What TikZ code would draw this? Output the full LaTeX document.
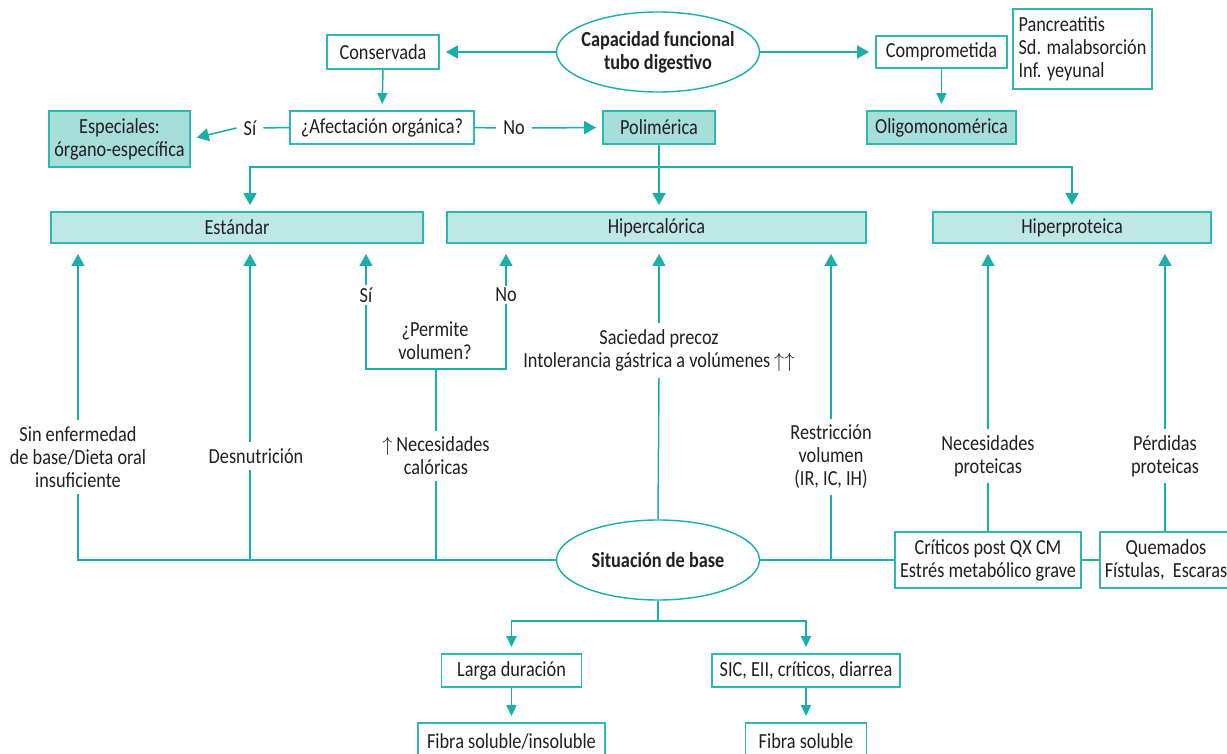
\documentclass[tikz,border=0pt]{standalone}
\usepackage{fontspec}
\setmainfont[FakeStretch=0.85]{Carlito}
\usetikzlibrary{arrows.meta,shapes.geometric}
\definecolor{tl}{HTML}{1AAFA8}
\definecolor{tlb}{HTML}{2DB8B1}
\definecolor{fdark}{HTML}{A6DEDA}
\definecolor{flight}{HTML}{BDE8E5}
\definecolor{txt}{HTML}{231F20}
\tikzset{
  box/.style={draw=tlb, line width=1.8pt, fill=white, inner sep=0pt, text=txt, align=center},
  dbox/.style={box, fill=fdark},
  lbox/.style={box, fill=flight},
  ell/.style={ellipse, draw=tl, line width=1.4pt, fill=white, inner xsep=-8pt, inner ysep=0pt, text=txt, align=center, font=\fontsize{21.5}{23}\selectfont\bfseries},
  lbl/.style={text=txt, align=center, inner xsep=2pt, inner ysep=6pt},
  lblh/.style={text=txt, inner xsep=7pt, inner ysep=2pt},
  conn/.style={draw=tl, line width=1.5pt},
  arr/.style={conn, -{Triangle[width=13pt,length=12pt]}, shorten >=6pt},
  arrs/.style={conn, -{Triangle[width=10pt,length=11pt]}, shorten >=6pt},
  arrup/.style={conn, -{Triangle[width=13pt,length=12pt]}}
}
\begin{document}
\begin{tikzpicture}[x=1pt,y=-1pt, font=\fontsize{21.5}{23}\selectfont]
\useasboundingbox (0,0) rectangle (1227,754);
% top
\node[ell, minimum width=203pt, minimum height=80pt] (cap) at (658,52) {Capacidad funcional\\tubo digestivo};
\node[box, minimum width=112pt, minimum height=34pt] (cons) at (383,52) {Conservada};
\node[box, minimum width=131pt, minimum height=32pt] (comp) at (941.5,52) {Comprometida};
\node[box, minimum width=139pt, minimum height=80pt, align=left] (panc) at (1082.5,49) {Pancreatitis\\Sd. malabsorción\\Inf. yeyunal};
\node[box, minimum width=184pt, minimum height=33pt] (afec) at (382,127.5) {¿Afectación orgánica?};
\node[dbox, minimum width=141pt, minimum height=56pt] (esp) at (119.5,139) {Especiales:\\órgano-específica};
\node[dbox, minimum width=112pt, minimum height=33pt] (poli) at (659,127.5) {Polimérica};
\node[dbox, minimum width=149pt, minimum height=33pt] (oligo) at (941.5,127.5) {Oligomonomérica};
\node[lblh] (si1) at (250,128) {Sí};
\node[lblh] (no1) at (514,128) {No};
% row of targets
\node[lbox, minimum width=372pt, minimum height=31pt] (est) at (237,227.5) {Estándar};
\node[lbox, minimum width=419pt, minimum height=31pt] (hiper) at (656.5,227.5) {Hipercalórica};
\node[lbox, minimum width=278pt, minimum height=31pt] (hprot) at (1072,227.5) {Hiperproteica};
\coordinate (pj) at (659,167);
\coordinate (d1) at (250,167);
% arrow tips
\coordinate (e1) at (78,254);
\coordinate (e2) at (250,254);
\coordinate (e3) at (366,254);
\coordinate (e4) at (506,254);
\coordinate (e5) at (659,254);
\coordinate (e6) at (831,254);
\coordinate (e7) at (988,254);
\coordinate (e8) at (1165,254);
% labels
\node[lbl] (sinenf) at (78,457) {Sin enfermedad\\de base/Dieta oral\\insuficiente};
\node[lbl] (desn) at (256,456) {Desnutrición};
\node[lblh] (si2) at (366,295) {Sí};
\node[lblh] (no2) at (506,295) {No};
\node[text=txt, align=center, inner sep=0pt] (perm) at (435,341) {¿Permite\\volumen?};
\coordinate (pb) at (436,369);
\node[lbl] (nec1) at (436,456) {$\uparrow$\,Necesidades\\calóricas};
\node[lbl] (sac) at (659,350.5) {Saciedad precoz\\Intolerancia gástrica a volúmenes\,$\uparrow\uparrow$};
\node[lbl] (restr) at (831,457) {Restricción\\volumen\\(IR, IC, IH)};
\node[lbl] (necp) at (988,456) {Necesidades\\proteicas};
\node[lbl] (perd) at (1165,456) {Pérdidas\\proteicas};
% bottom
\node[ell, minimum width=203pt, minimum height=80pt] (base) at (658,560) {Situación de base};
\node[box, minimum width=186pt, minimum height=56pt] (crit) at (988,560) {Críticos post QX CM\\Estrés metabólico grave};
\node[box, minimum width=132pt, minimum height=56pt] (quem) at (1166,560) {Quemados\\Fístulas,\ \ Escaras};
\coordinate (bj) at (658,621);
\node[box, minimum width=140pt, minimum height=33pt] (larga) at (511.5,670.5) {Larga duración};
\node[box, minimum width=188pt, minimum height=33pt] (sic) at (806,670.5) {SIC, EII, críticos, diarrea};
\node[box, minimum width=187pt, minimum height=36pt] (fib1) at (511.5,741) {Fibra soluble/insoluble};
\node[box, minimum width=121pt, minimum height=36pt] (fib2) at (806,741) {Fibra soluble};
% connectors top
\draw[arr] (cap.west) -- (cons.east);
\draw[arr] (cap.east) -- (comp.west);
\draw[arrs] (cons.south) -- (afec.north);
\draw[arrs] (comp.south) -- (oligo.north);
\draw[conn] (afec.west) -- (si1.east);
\draw[arr] (si1.west) -- (esp.east);
\draw[conn] (afec.east) -- (no1.west);
\draw[arr] (no1.east) -- (poli.west);
\draw[conn] (poli.south) -- (pj);
\draw[arr] (pj) -| (est.north -| d1);
\draw[arr] (pj) -- (hiper.north -| pj);
\draw[arr] (pj) -| (hprot.north);
% upward connectors
\draw[arrup] (sinenf.north) -- (e1);
\draw[conn] (sinenf.south) |- (base.west);
\draw[arrup] (desn.north -| e2) -- (e2);
\draw[conn] (desn.south -| e2) -- (e2 |- base.west);
\draw[arrup] (si2.north) -- (e3);
\draw[arrup] (no2.north) -- (e4);
\draw[conn] (si2.south) |- (pb) -| (no2.south);
\draw[conn] (pb) -- (nec1.north);
\draw[conn] (nec1.south) -- (nec1.south |- base.west);
\draw[arrup] (sac.north) -- (e5);
\draw[conn] (base.north) -- (sac.south);
\draw[arrup] (restr.north) -- (e6);
\draw[conn] (restr.south) -- (restr.south |- base.east);
\draw[conn] (base.east) -- (crit.west);
\draw[conn] (crit.east) -- (quem.west);
\draw[arrup] (necp.north) -- (e7);
\draw[conn] (crit.north) -- (necp.south);
\draw[arrup] (perd.north) -- (e8);
\draw[conn] (quem.north -| perd) -- (perd.south);
% bottom connectors
\draw[conn] (base.south) -- (bj);
\draw[arrs] (bj) -| (larga.north);
\draw[arrs] (bj) -| (sic.north);
\draw[arrs] (larga.south) -- (fib1.north);
\draw[arrs] (sic.south) -- (fib2.north);
\end{tikzpicture}
\end{document}
